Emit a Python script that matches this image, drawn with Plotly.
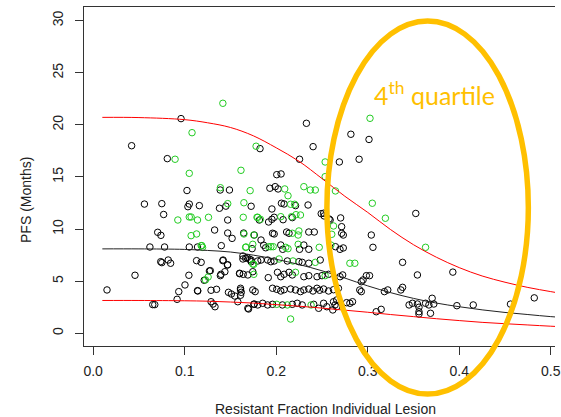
import plotly.graph_objects as go

# ---------------- data ----------------
black_x = [0.096,0.042,0.081,0.1025,0.056,0.075,0.077,0.105,0.1035,0.0705,0.074,
           0.062,0.078,0.105,0.114,0.0738,0.075,0.082,0.0846,0.113,
           0.0457,0.1046,0.1003,0.0151,0.0935,0.0917,0.114,0.0651,0.0673,
           0.116,0.138,0.145,0.1726,0.1388,0.1489,
           0.147,0.1327,0.147,0.1518,0.1644,0.14,0.1737,0.176,
           0.1636,0.1666,0.171,0.1726,0.118,0.1417,0.147,0.128,0.1396,0.1439,
           0.160,0.164,0.1143,0.1288,0.1348,0.1478,0.151,0.1547,0.161,0.161,0.177,
           0.1288,0.131,0.1331,0.1698,0.176,
           0.142,0.1467,0.139,0.127,0.1213,
           0.2006,0.2053,0.1931,0.1989,0.2021,
           0.1953,0.2057,0.2086,0.2211,0.2348,
           0.1816,0.1917,0.1953,0.1978,0.2075,0.2176,
           0.2492,0.2524,0.2589,0.2715,
           0.1834,0.196,0.1978,0.2114,0.214,0.2356,0.2416,0.2715,
           0.1863,0.1885,0.205,0.2071,0.2255,0.2302,0.2356,0.2647,0.2697,0.2733,
           0.1636,0.1683,0.1726,0.1798,0.1834,0.1906,0.1942,0.1978,0.2122,0.2248,0.2284,0.2356,0.2481,
           0.16,0.169,0.1744,0.1913,0.2014,0.205,0.2086,0.214,0.2176,0.2302,0.2356,0.2446,0.25,0.2572,
           0.161,0.1618,0.1744,0.196,0.2006,0.205,0.2086,0.2157,0.2211,0.2265,0.2302,0.2356,0.2402,0.2446,0.2475,0.2518,0.2572,0.2626,0.268,
           0.158,0.169,0.1755,0.1798,0.1852,0.1906,0.196,0.2068,0.2176,0.223,0.2284,0.241,0.2464,0.2518,0.2553,0.2626,0.2661,
           0.2733,0.3039,0.3057,0.3381,0.3543,0.2985,0.302,0.2949,0.293,0.2726,0.2697,0.2913,0.293,0.3182,0.3219,0.3362,0.3381,
           0.3452,0.3489,0.3543,0.356,0.356,0.3632,0.3668,0.3704,0.3722,0.3093,0.3147,0.3686,0.356,
           0.2805,0.2769,0.2834,0.2661,0.2643,0.2618,
           0.3974,0.4153,0.456,0.482,0.393,
           0.233,0.2403,0.2816,0.3014,0.2255,0.269,0.2906,0.1823,
           0.2704,0.2518,0.2578,0.3525]
black_y = [20.6,18.0,16.76,13.7,12.4,12.44,11.4,12.4,12.15,9.69,9.4,
           8.28,8.28,8.28,8.28,6.87,6.78,7.03,6.72,6.97,
           5.57,5.57,4.64,4.16,4.0,3.26,4.09,2.75,2.75,
           12.25,12.0,12.2,12.19,13.75,13.75,
           10.87,9.91,9.62,9.11,9.62,8.41,8.12,9.43,
           7.42,7.2,7.1,6.87,6.81,6.97,6.58,6.01,5.66,5.91,
           5.72,5.66,4.06,4.13,4.22,3.93,3.77,3.58,4.16,3.65,4.0,
           3.03,2.81,2.55,2.33,2.81,
           7.03,6.55,5.53,5.98,5.09,
           15.22,15.29,13.92,14.07,13.85,
           11.93,12.48,12.41,12.25,12.31,
           10.87,10.68,10.94,11.13,10.9,11.1,
           11.48,11.26,10.87,10.23,
           8.95,9.6,9.53,9.72,9.6,9.72,9.72,9.6,
           8.45,8.21,8.47,8.06,8.06,8.47,8.06,8.31,8.06,8.19,
           7.13,7.26,7.03,6.94,7.03,7.03,6.87,6.94,6.94,6.87,6.81,6.72,7.03,
           5.76,5.6,5.91,5.34,5.85,5.43,5.66,5.85,5.6,5.43,5.53,5.43,5.53,5.66,
           4.32,3.93,4.16,4.32,4.22,4.06,4.18,4.25,4.16,4.0,4.16,4.25,4.06,4.32,4.13,4.25,4.06,4.18,4.32,
           3.03,2.4,2.78,2.72,2.88,2.72,2.78,2.72,2.78,2.88,2.72,2.78,2.4,2.88,2.55,3.03,2.55,
           9.43,9.43,8.25,6.81,5.6,5.53,5.53,5.12,4.95,5.6,5.43,4.16,4.0,4.0,4.16,4.16,4.41,
           2.72,2.88,2.81,2.5,2.07,2.88,2.72,3.36,2.81,2.07,2.3,1.92,1.85,
           2.88,2.94,3.03,3.2,2.72,2.24,
           2.65,2.72,2.8,3.4,5.87,
           20.15,17.91,19.1,18.6,16.7,16.44,16.7,17.72,
           11.07,11.52,10.97,11.5]

green_x = [0.0895,0.108,0.105,0.0925,0.105,0.107,0.114,0.107,0.113,
           0.1417,0.1615,0.178,0.139,0.1715,0.147,0.1647,
           0.126,0.164,0.179,0.1755,0.1187,0.167,
           0.1647,0.118,0.1195,0.1666,0.1755,0.1227,0.1256,0.1755,
           0.2093,0.2129,0.2302,0.2373,0.2427,0.2647,0.2157,0.2201,
           0.1798,0.1827,0.205,0.2168,0.2216,0.2265,0.2626,
           0.2176,0.2248,0.224,0.2607,
           0.1744,0.1917,0.1942,0.1967,0.2104,0.2129,0.224,0.247,0.2597,
           0.2032,0.2183,0.2427,0.1744,0.2211,0.2535,
           0.2006,0.2122,0.2381,0.2157,
           0.3025,0.2535,0.2535,0.305,0.3193,0.3632,0.2805,0.2859]
green_y = [16.7,19.25,15.35,10.87,11.16,11.16,10.87,9.37,9.53,
           22.07,15.64,17.95,13.97,13.69,12.44,12.53,
           11.13,11.13,11.13,9.43,8.41,8.28,
           9.53,8.41,8.25,8.25,6.62,5.12,5.4,5.66,
           13.85,13.2,14.07,13.75,13.75,13.66,12.38,12.38,
           11.13,10.94,11.19,11.19,11.38,11.35,10.3,
           9.6,9.82,9.43,9.5,
           8.54,8.31,8.31,8.31,8.25,8.12,8.54,8.25,8.47,
           7.13,6.94,6.81,6.65,5.85,5.53,
           2.78,2.72,2.72,1.37,
           20.63,16.44,15.03,12.48,11.04,8.25,6.72,6.72]

curve_x = [0.01,0.05,0.1,0.125,0.15,0.175,0.2,0.225,0.25,0.275,0.3,0.325,
           0.35,0.375,0.4,0.425,0.45,0.475,0.5,0.52]
upper_y = [20.72,20.7,20.5,20.2,19.75,18.95,17.8,16.5,14.85,13.15,11.6,9.95,
           8.5,7.3,6.3,5.5,4.9,4.4,4.0,3.7]
median_y = [8.1,8.1,8.05,7.95,7.8,7.5,7.1,6.6,6.0,5.3,4.55,3.9,
            3.35,2.9,2.55,2.25,2.0,1.8,1.6,1.48]
lower_y = [3.15,3.15,3.12,3.08,3.0,2.9,2.75,2.6,2.42,2.22,2.02,1.8,
           1.6,1.4,1.22,1.05,0.92,0.8,0.68,0.6]

x_ticks = [0.0,0.1,0.2,0.3,0.4,0.5]
x_ticktext = ["0.0","0.1","0.2","0.3","0.4","0.5"]
y_ticks = [0,5,10,15,20,25,30]

# ---------------- figure ----------------
fig = go.Figure()
mk = dict(symbol="circle-open", size=6.5, line=dict(width=1))
fig.add_trace(go.Scatter(x=black_x, y=black_y, mode="markers",
                         marker=dict(color="#000000", **mk)))
fig.add_trace(go.Scatter(x=green_x, y=green_y, mode="markers",
                         marker=dict(color="#22CC22", **mk)))
fig.add_trace(go.Scatter(x=curve_x, y=upper_y, mode="lines",
                         line=dict(color="#FF0000", width=1, shape="spline")))
fig.add_trace(go.Scatter(x=curve_x, y=median_y, mode="lines",
                         line=dict(color="#222222", width=1, shape="spline")))
fig.add_trace(go.Scatter(x=curve_x, y=lower_y, mode="lines",
                         line=dict(color="#FF0000", width=1, shape="spline")))

font_axis = dict(family="Liberation Sans, Arial, sans-serif", size=14, color="#222222")

fig.update_layout(
    width=561, height=417,
    margin=dict(l=84, r=0, t=7, b=71),
    plot_bgcolor="white", paper_bgcolor="white",
    showlegend=False,
    font=font_axis,
    xaxis=dict(range=[-0.01003, 0.50464], tickvals=x_ticks, ticktext=x_ticktext,
               ticks="outside", ticklen=8, tickcolor="#333333", tickwidth=1,
               showline=True, linecolor="#333333", linewidth=1, mirror=True,
               showgrid=False, zeroline=False, tickfont=font_axis,
               ticklabelstandoff=4, ticklabeloverflow="allow"),
    yaxis=dict(range=[-1.219, 31.31], tickvals=y_ticks, tickangle=-90,
               ticks="outside", ticklen=8, tickcolor="#333333", tickwidth=1,
               showline=True, linecolor="#333333", linewidth=1, mirror=False,
               showgrid=False, zeroline=False, tickfont=font_axis,
               ticklabelstandoff=6),
)

fig.add_shape(type="circle", xref="paper", yref="paper",
              x0=0.5157, x1=0.9434, y0=-0.1416, y1=0.9587,
              line=dict(color="#FFC000", width=5.5), layer="above")

fig.add_annotation(xref="paper", yref="paper", x=0.513, y=-0.186,
                   text="Resistant Fraction Individual Lesion", showarrow=False,
                   font=font_axis, xanchor="center", yanchor="middle")
fig.add_annotation(xref="paper", yref="paper", x=-0.1237, y=0.43,
                   text="PFS (Months)", showarrow=False, textangle=-90,
                   font=font_axis, xanchor="center", yanchor="middle")
fig.add_annotation(xref="paper", yref="paper", x=0.745, y=0.745,
                   text="4<sup>th</sup> quartile", showarrow=False,
                   font=dict(family="Lato, Open Sans, sans-serif", size=25, color="#FFC000"),
                   xanchor="center", yanchor="middle")

fig.write_html("out.html")
